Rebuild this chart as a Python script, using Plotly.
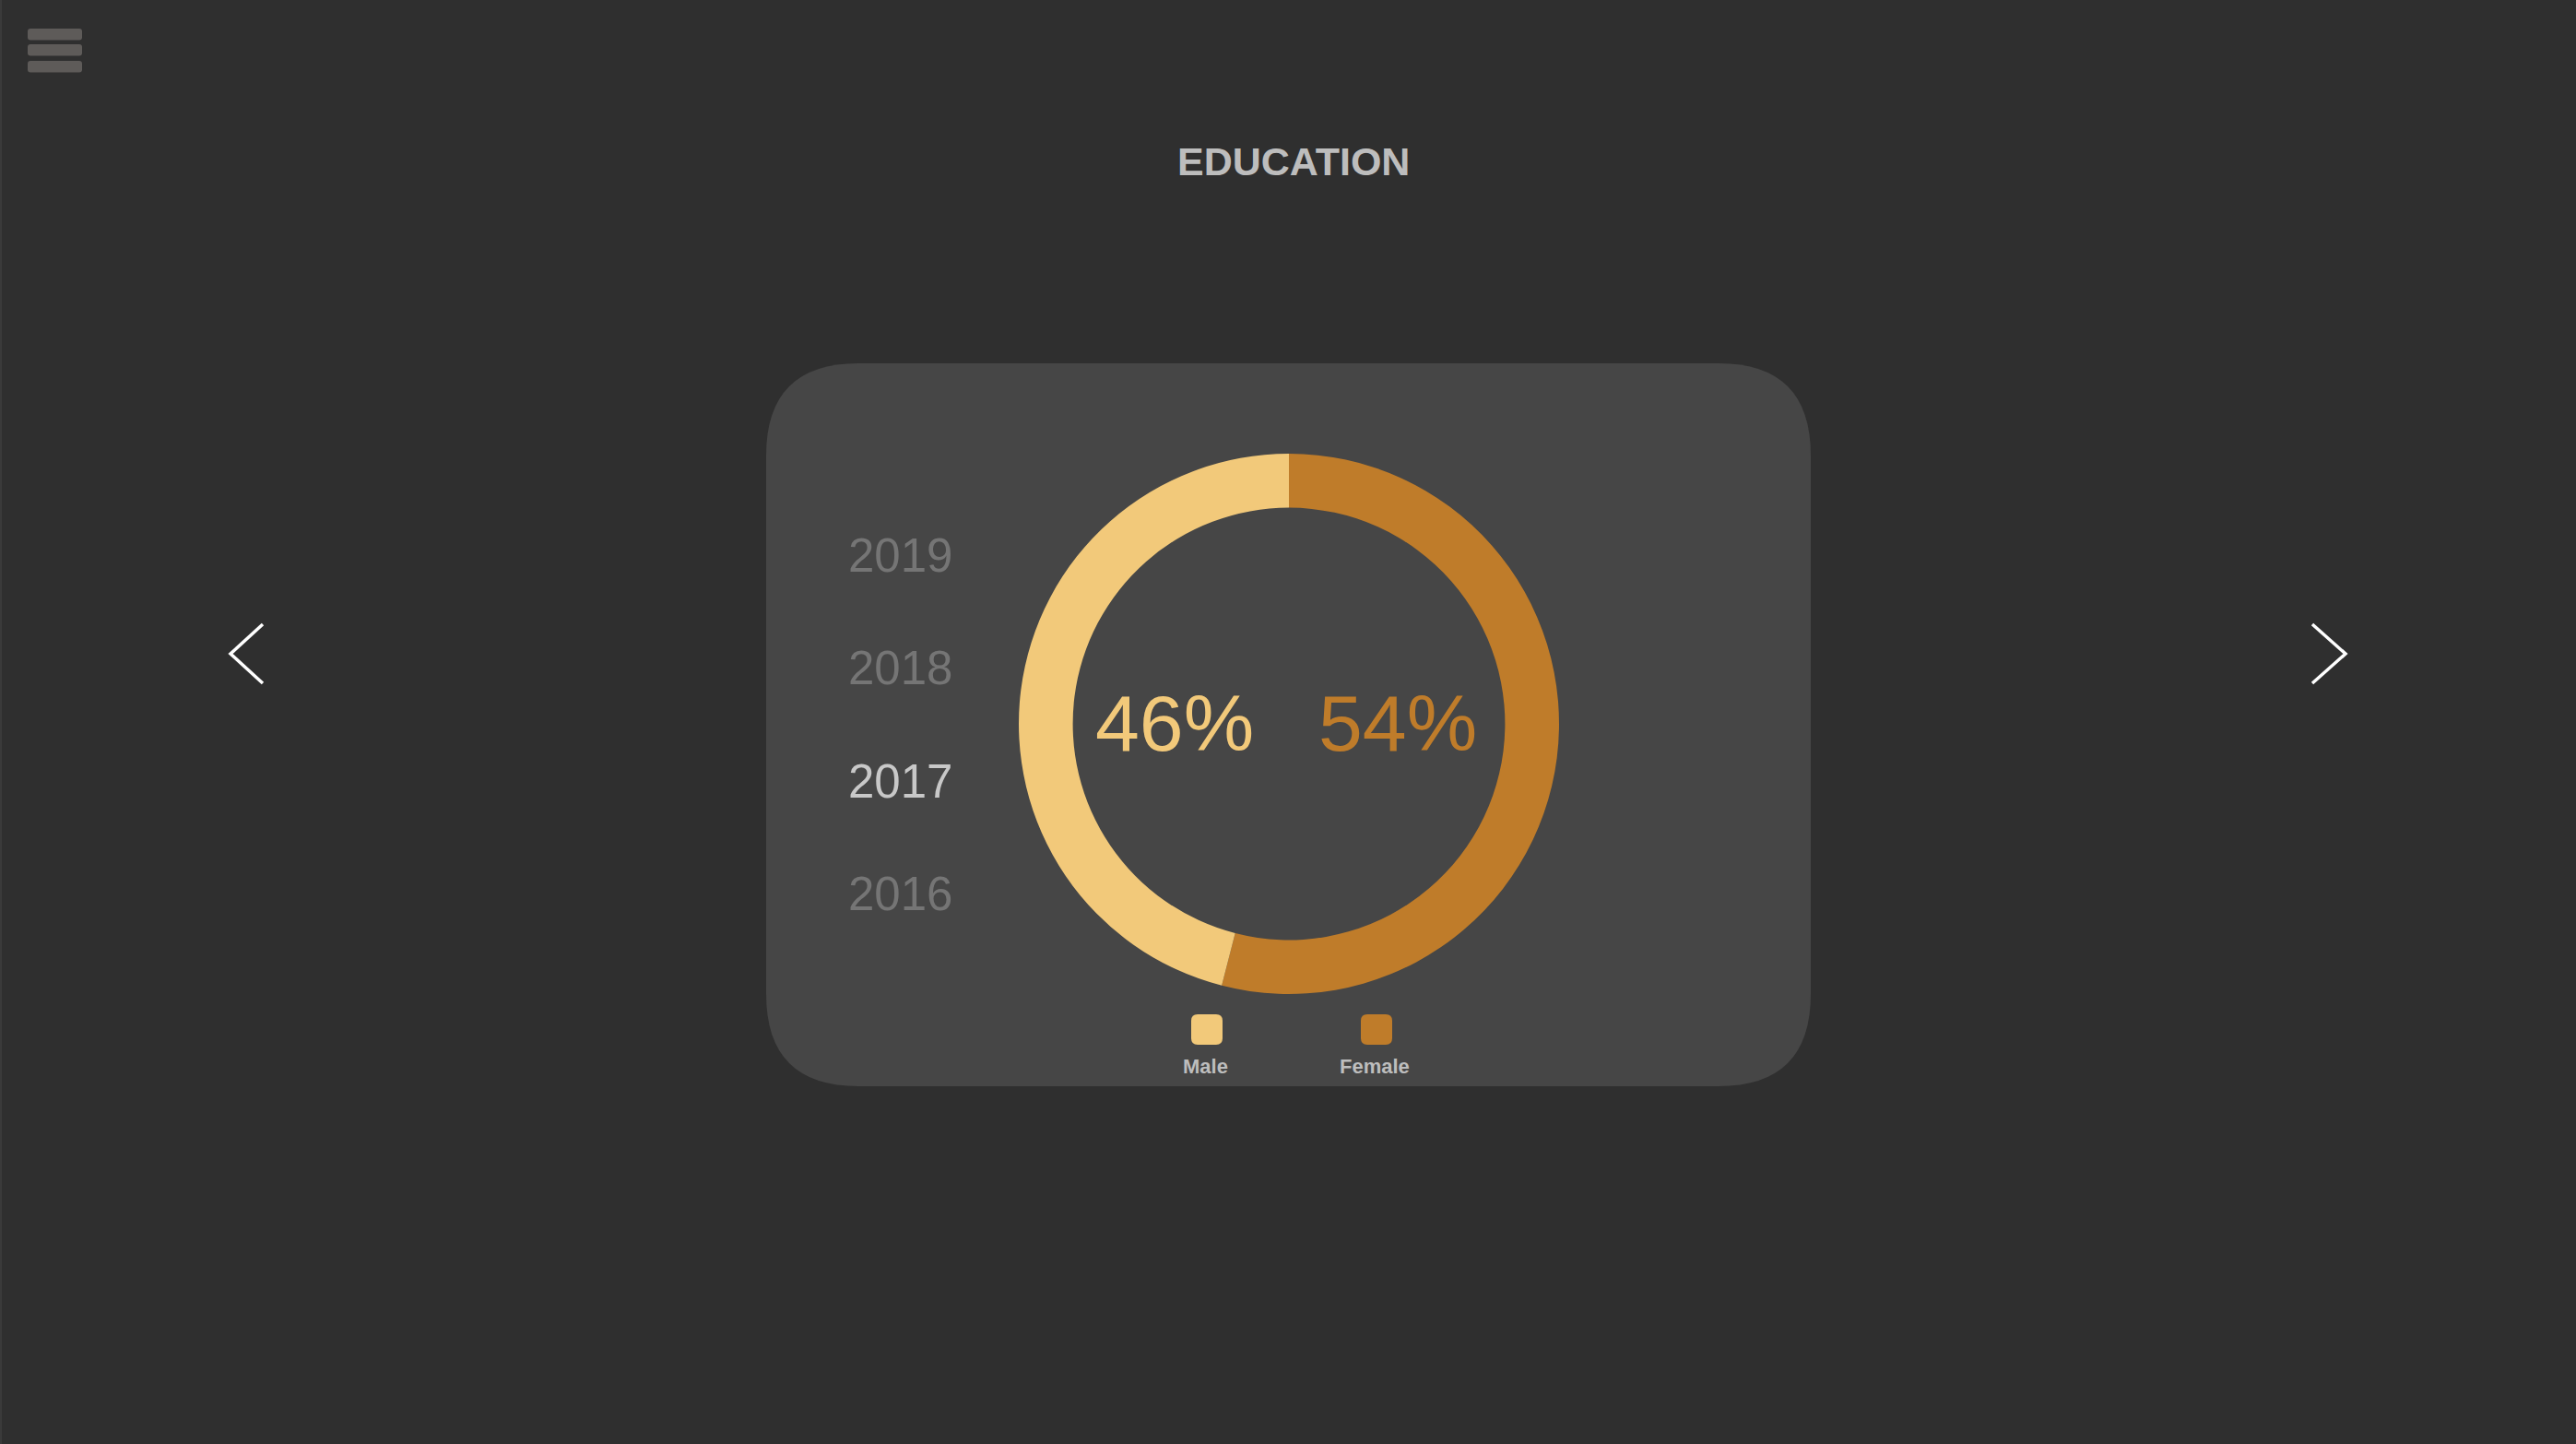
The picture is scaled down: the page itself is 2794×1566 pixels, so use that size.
import plotly.graph_objects as go

W, H = 2794, 1566

title = "EDUCATION"
years = ["2019", "2018", "2017", "2016"]
selected_year = "2017"
labels = ["Female", "Male"]
values = [54, 46]
legend_labels = ["Male", "Female"]
colors = {"Male": "#F2C97A", "Female": "#BF7C2A"}

BG = "#2F2F2F"
CARD = "#464646"
FONT = "Liberation Sans, Arial, sans-serif"


def rrect(x0, y0, x1, y1, r):
    return (f"M{x0+r},{y0} L{x1-r},{y0} Q{x1},{y0} {x1},{y0+r} "
            f"L{x1},{y1-r} Q{x1},{y1} {x1-r},{y1} L{x0+r},{y1} "
            f"Q{x0},{y1} {x0},{y1-r} L{x0},{y0+r} Q{x0},{y0} {x0+r},{y0} Z")


def px(x):
    return x / W


def py(y):
    return 1 - y / H


fig = go.Figure()

cx, cy, R = 1398, 785, 293
fig.add_trace(go.Pie(
    labels=labels, values=values, hole=0.8, sort=False,
    direction="clockwise", rotation=0,
    marker=dict(colors=[colors[l] for l in labels], line=dict(width=0)),
    textinfo="none", hoverinfo="label+percent", showlegend=False,
    domain=dict(x=[px(cx - R), px(cx + R)], y=[py(cy + R), py(cy - R)]),
))

shapes = []
# card
shapes.append(dict(type="path", xref="x", yref="y", path=rrect(831, 394, 1964, 1178, 100),
                   fillcolor=CARD, line=dict(width=0), layer="below"))
# hamburger
for y0 in (31, 48, 66):
    shapes.append(dict(type="path", xref="x", yref="y", path=rrect(30, y0, 89, y0 + 12.5, 3),
                       fillcolor="#5E5B59", line=dict(width=0)))
# arrows
shapes.append(dict(type="path", xref="x", yref="y", path="M285,677 L250,709 L285,741",
                   line=dict(color="white", width=3.5)))
shapes.append(dict(type="path", xref="x", yref="y", path="M2508,677 L2544,709 L2508,741",
                   line=dict(color="white", width=3.5)))
# legend squares
leg_x = {"Male": 1309, "Female": 1493}
for l in legend_labels:
    x = leg_x[l]
    shapes.append(dict(type="path", xref="x", yref="y", path=rrect(x - 17, 1100, x + 17, 1133, 7),
                       fillcolor=colors[l], line=dict(width=0)))
# left edge line
shapes.append(dict(type="line", xref="x", yref="y", x0=1, x1=1, y0=0, y1=H,
                   line=dict(color="#3A3A3A", width=2)))

ann = []
ann.append(dict(x=1403, y=175, text=f"<b>{title}</b>", showarrow=False, xref="x", yref="y",
                font=dict(family=FONT, size=43, color="#BDBDBD")))
year_y = [602, 724, 847, 969]
for yr, yy in zip(years, year_y):
    sel = yr == selected_year
    ann.append(dict(x=918, y=yy, text=yr, showarrow=False, xref="x", yref="y", xanchor="left",
                    font=dict(family=FONT, size=51, color="#C8C8C8" if sel else "#757575")))
pct_x = {"Male": 1274, "Female": 1516}
for l, v in zip(labels, values):
    ann.append(dict(x=pct_x[l], y=784, text=f"{v}%", showarrow=False, xref="x", yref="y",
                    font=dict(family=FONT, size=86, color=colors[l])))
for l in legend_labels:
    ann.append(dict(x=leg_x[l] - 2, y=1156, text=f"<b>{l}</b>", showarrow=False, xref="x", yref="y",
                    font=dict(family=FONT, size=22, color="#BDBDBD")))

fig.update_layout(
    width=W, height=H, margin=dict(l=0, r=0, t=0, b=0),
    paper_bgcolor=BG, plot_bgcolor=BG,
    xaxis=dict(range=[0, W], visible=False, fixedrange=True),
    yaxis=dict(range=[H, 0], visible=False, fixedrange=True),
    shapes=shapes, annotations=ann, showlegend=False,
)

fig.write_html("out.html", config={"displayModeBar": False})
